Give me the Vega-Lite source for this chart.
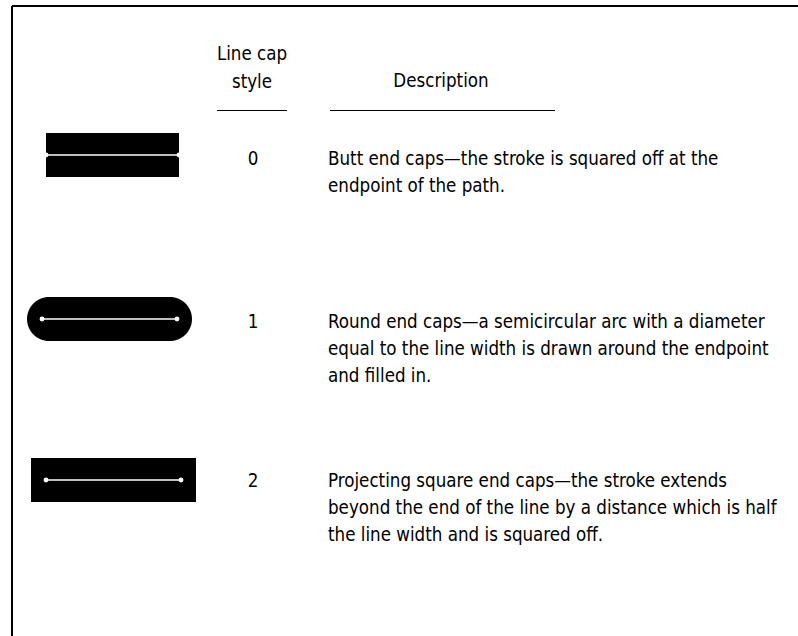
{
  "$schema": "https://vega.github.io/schema/vega-lite/v6.json",
  "autosize": {"type": "none"},
  "width": 798,
  "height": 636,
  "padding": 0,
  "background": "white",
  "config": {"view": {"stroke": null}},
  "datasets": {
    "frame": [
      {"part": "top border", "x": 12, "y": 6, "x2": 798, "y2": 6, "w": 2},
      {"part": "left border", "x": 12, "y": 6, "x2": 12, "y2": 636, "w": 2},
      {"part": "style underline", "x": 217, "y": 110.5, "x2": 287, "y2": 110.5, "w": 1},
      {"part": "description underline", "x": 330, "y": 110.5, "x2": 555, "y2": 110.5, "w": 1}
    ],
    "shapes": [
      {"style": 0, "x": 46, "x2": 179, "y": 133, "y2": 177, "lx": 46, "lx2": 179, "ly": 155},
      {"style": 1, "x": 27, "x2": 192, "y": 297, "y2": 341, "lx": 42, "lx2": 177, "ly": 319},
      {"style": 2, "x": 31, "x2": 196, "y": 458, "y2": 502, "lx": 46, "lx2": 181, "ly": 480}
    ],
    "dots": [
      {"style": 0, "x": 46, "y": 155},
      {"style": 0, "x": 179, "y": 155},
      {"style": 1, "x": 42, "y": 319},
      {"style": 1, "x": 177, "y": 319},
      {"style": 2, "x": 46, "y": 480},
      {"style": 2, "x": 181, "y": 480}
    ],
    "centered": [
      {"text": "Line cap", "x": 252, "y": 60},
      {"text": "style", "x": 252, "y": 88},
      {"text": "Description", "x": 441, "y": 87},
      {"text": "0", "x": 253, "y": 165},
      {"text": "1", "x": 253, "y": 328},
      {"text": "2", "x": 253, "y": 487}
    ],
    "descriptions": [
      {"text": "Butt end caps—the stroke is squared off at the", "x": 328, "y": 165},
      {"text": "endpoint of the path.", "x": 328, "y": 192},
      {"text": "Round end caps—a semicircular arc with a diameter", "x": 328, "y": 328},
      {"text": "equal to the line width is drawn around the endpoint", "x": 328, "y": 355},
      {"text": "and filled in.", "x": 328, "y": 382},
      {"text": "Projecting square end caps—the stroke extends", "x": 328, "y": 487},
      {"text": "beyond the end of the line by a distance which is half", "x": 328, "y": 514},
      {"text": "the line width and is squared off.", "x": 328, "y": 541}
    ]
  },
  "encoding": {
    "x": {"field": "x", "type": "quantitative", "scale": {"domain": [0, 798], "nice": false, "zero": false}, "axis": null},
    "y": {"field": "y", "type": "quantitative", "scale": {"domain": [0, 636], "nice": false, "zero": false, "reverse": true}, "axis": null}
  },
  "layer": [
    {
      "data": {"name": "frame"},
      "mark": {"type": "rule", "color": "black"},
      "encoding": {
        "x2": {"field": "x2"},
        "y2": {"field": "y2"},
        "strokeWidth": {"field": "w", "type": "quantitative", "scale": null}
      }
    },
    {
      "data": {"name": "shapes"},
      "transform": [{"filter": "datum.style != 1"}],
      "mark": {"type": "rect", "color": "black"},
      "encoding": {"x2": {"field": "x2"}, "y2": {"field": "y2"}}
    },
    {
      "data": {"name": "shapes"},
      "transform": [{"filter": "datum.style == 1"}],
      "mark": {"type": "rect", "color": "black", "cornerRadius": 22},
      "encoding": {"x2": {"field": "x2"}, "y2": {"field": "y2"}}
    },
    {
      "data": {"name": "shapes"},
      "mark": {"type": "rule", "color": "white", "strokeWidth": 1.5},
      "encoding": {
        "x": {"field": "lx", "type": "quantitative"},
        "x2": {"field": "lx2"},
        "y": {"field": "ly", "type": "quantitative"}
      }
    },
    {
      "data": {"name": "dots"},
      "mark": {"type": "circle", "color": "white", "opacity": 1, "size": 24}
    },
    {
      "data": {"name": "centered"},
      "mark": {"type": "text", "font": "DejaVu Sans Condensed, sans-serif", "fontSize": 18.6, "align": "center", "baseline": "alphabetic", "color": "black"},
      "encoding": {"text": {"field": "text"}}
    },
    {
      "data": {"name": "descriptions"},
      "mark": {"type": "text", "font": "DejaVu Sans Condensed, sans-serif", "fontSize": 18.6, "align": "left", "baseline": "alphabetic", "color": "black"},
      "encoding": {"text": {"field": "text"}}
    }
  ]
}
